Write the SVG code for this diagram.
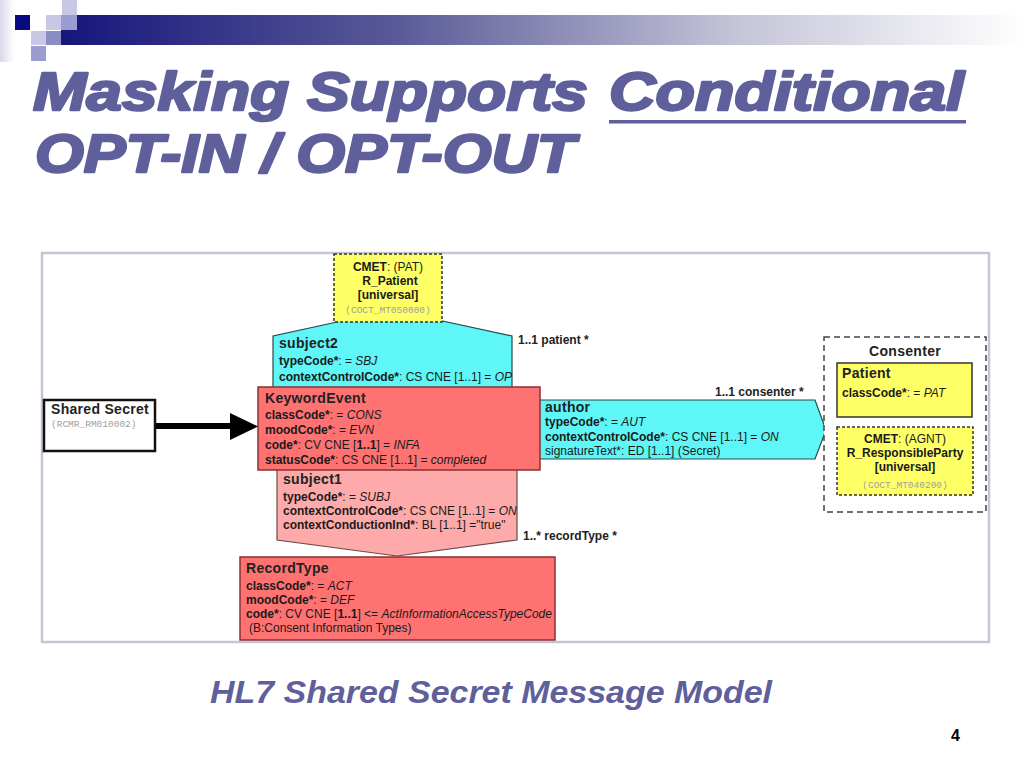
<svg xmlns="http://www.w3.org/2000/svg" width="1024" height="768" viewBox="0 0 1024 768">
<defs>
<linearGradient id="bar" x1="0" y1="0" x2="1" y2="0">
<stop offset="0" stop-color="#16167c"/>
<stop offset="0.35" stop-color="#5a5a98"/>
<stop offset="0.7" stop-color="#c4c4d8"/>
<stop offset="1" stop-color="#ffffff"/>
</linearGradient>
<linearGradient id="edge" x1="0" y1="0" x2="1" y2="0">
<stop offset="0" stop-color="#d8d8ec"/>
<stop offset="1" stop-color="#ffffff"/>
</linearGradient>
<style>
.t{font-family:"Liberation Sans",Arial,sans-serif;font-weight:bold;font-style:italic;fill:#5f5f9b;stroke:#5f5f9b;stroke-width:2.4px;stroke-linejoin:round}
.f{font-family:"Liberation Sans",Arial,sans-serif;font-weight:bold;font-style:italic;fill:#5f5f9b}
.d{font-family:"Liberation Sans",Arial,sans-serif;font-size:12px;fill:#1a1a1a}
.h{font-family:"Liberation Sans",Arial,sans-serif;font-size:14px;font-weight:bold;fill:#222;letter-spacing:0.3px}
.m{font-family:"Liberation Mono",monospace;font-size:9.5px;fill:#a0a0a0}
.b{font-weight:bold}
.i{font-style:italic}
.red{fill:#ff7272;stroke:#8a3030;stroke-width:1.5}
.pink{fill:#ffaaaa;stroke:#6a4a4a;stroke-width:1.2}
.cyan{fill:#5ef6f6;stroke:#2a4a4a;stroke-width:1.2}
.yel{fill:#ffff66;stroke:#333;stroke-width:1.5}
.dash{stroke-dasharray:3,2}
.lbl{font-family:"Liberation Sans",Arial,sans-serif;font-size:12px;font-weight:bold;fill:#222}
</style>
</defs>
<rect width="1024" height="768" fill="#ffffff"/>
<g id="header">
<rect x="0" y="0" width="14" height="62" fill="url(#edge)"/>
<rect x="61" y="15" width="963" height="30" fill="url(#bar)"/>
<rect x="62" y="0" width="15" height="15" fill="#c8c8e4"/>
<rect x="15" y="15" width="15" height="15" fill="#0a0a80"/>
<rect x="46" y="15" width="15" height="15" fill="#c8c8e4"/>
<rect x="61" y="15" width="16" height="15" fill="#9c9cd0"/>
<rect x="31" y="31" width="15" height="14" fill="#c8c8e4"/>
<rect x="46" y="31" width="15" height="14" fill="#8c8cc4"/>
<rect x="31" y="46" width="15" height="15" fill="#9c9cd0"/>
</g>
<g id="title">
<text class="t" x="33" y="110" font-size="53" textLength="555" lengthAdjust="spacingAndGlyphs">Masking Supports</text>
<text class="t" x="609" y="110" font-size="53" textLength="355" lengthAdjust="spacingAndGlyphs">Conditional</text>
<rect x="609" y="120" width="357" height="3.5" fill="#5f5f9b"/>
<text class="t" x="35" y="172" font-size="53" textLength="540" lengthAdjust="spacingAndGlyphs">OPT-IN / OPT-OUT</text>
</g>
<rect id="frame" x="42" y="253" width="947" height="389" fill="#ffffff" stroke="#c4c4d6" stroke-width="2.5"/>

<g id="author">
<polygon class="cyan" points="530,400 815,400 826,430 815,459 530,459"/>
<text class="h" x="545" y="412">author</text>
<text class="d" x="545" y="426"><tspan class="b">typeCode*</tspan>: = <tspan class="i">AUT</tspan></text>
<text class="d" x="545" y="441"><tspan class="b">contextControlCode*</tspan>: CS CNE [1..1] = <tspan class="i">ON</tspan></text>
<text class="d" x="545" y="455">signatureText*: ED [1..1] (Secret)</text>
</g>

<g id="subject2">
<polygon class="cyan" points="273,395 273,336 392,310 512,336 512,395"/>
<text class="h" x="279" y="348">subject2</text>
<text class="d" x="279" y="365"><tspan class="b">typeCode*</tspan>: = <tspan class="i">SBJ</tspan></text>
<text class="d" x="279" y="381"><tspan class="b">contextControlCode*</tspan>: CS CNE [1..1] = <tspan class="i">OP</tspan></text>
</g>

<g id="cmet-patient">
<rect class="yel dash" x="334" y="254" width="108" height="68"/>
<text class="d" x="388" y="271" text-anchor="middle"><tspan class="b">CMET</tspan>: (PAT)</text>
<text class="d b" x="390" y="285" text-anchor="middle">R_Patient</text>
<text class="d b" x="388" y="299" text-anchor="middle">[universal]</text>
<text class="m" x="388" y="313" text-anchor="middle">(COCT_MT050000)</text>
</g>

<g id="subject1">
<polygon class="pink" points="277,462 517,462 517,540 397,556 277,540"/>
<text class="h" x="283" y="484">subject1</text>
<text class="d" x="283" y="501"><tspan class="b">typeCode*</tspan>: = <tspan class="i">SUBJ</tspan></text>
<text class="d" x="283" y="515"><tspan class="b">contextControlCode*</tspan>: CS CNE [1..1] = <tspan class="i">ON</tspan></text>
<text class="d" x="283" y="529"><tspan class="b">contextConductionInd*</tspan>: BL [1..1] ="true"</text>
</g>

<g id="keyword-event">
<rect class="red" x="258" y="387" width="282" height="83"/>
<text class="h" x="265" y="403">KeywordEvent</text>
<text class="d" x="265" y="419"><tspan class="b">classCode*</tspan>: = <tspan class="i">CONS</tspan></text>
<text class="d" x="265" y="434"><tspan class="b">moodCode*</tspan>: = <tspan class="i">EVN</tspan></text>
<text class="d" x="265" y="449"><tspan class="b">code*</tspan>: CV CNE [<tspan class="b">1..1</tspan>] = <tspan class="i">INFA</tspan></text>
<text class="d" x="265" y="464"><tspan class="b">statusCode*</tspan>: CS CNE [1..1] = <tspan class="i">completed</tspan></text>
</g>

<g id="record-type">
<rect class="red" x="240" y="557" width="315" height="83"/>
<text class="h" x="246" y="573">RecordType</text>
<text class="d" x="246" y="590"><tspan class="b">classCode*</tspan>: = <tspan class="i">ACT</tspan></text>
<text class="d" x="246" y="604"><tspan class="b">moodCode*</tspan>: = <tspan class="i">DEF</tspan></text>
<text class="d" x="246" y="618"><tspan class="b">code*</tspan>: CV CNE [<tspan class="b">1..1</tspan>] &lt;= <tspan class="i">ActInformationAccessTypeCode</tspan></text>
<text class="d" x="249" y="632">(B:Consent Information Types)</text>
</g>

<g id="shared-secret">
<rect x="44" y="400" width="111" height="51" fill="#ffffff" stroke="#111" stroke-width="2.5"/>
<text class="h" x="51" y="414">Shared Secret</text>
<text class="m" x="51" y="427">(RCMR_RM010002)</text>
</g>

<g id="consenter">
<rect x="824" y="337" width="162" height="175" fill="#ffffff" stroke="#444" stroke-width="1.5" stroke-dasharray="6,4"/>
<text class="h" x="905" y="356" text-anchor="middle">Consenter</text>
<g id="patient">
<rect class="yel" x="837" y="363" width="135" height="54"/>
<text class="h" x="842" y="378">Patient</text>
<text class="d" x="842" y="397"><tspan class="b">classCode*</tspan>: = <tspan class="i">PAT</tspan></text>
</g>
<g id="cmet-responsible-party">
<rect class="yel dash" x="837" y="427" width="136" height="68"/>
<text class="d" x="905" y="443" text-anchor="middle"><tspan class="b">CMET</tspan>: (AGNT)</text>
<text class="d b" x="905" y="457" text-anchor="middle">R_ResponsibleParty</text>
<text class="d b" x="905" y="471" text-anchor="middle">[universal]</text>
<text class="m" x="905" y="488" text-anchor="middle">(COCT_MT040200)</text>
</g>
</g>

<g id="connectors">
<line x1="156" y1="426" x2="232" y2="426" stroke="#000" stroke-width="6"/>
<polygon points="230,413 258,426.5 230,440" fill="#000"/>
<text class="lbl" x="518" y="344">1..1 patient  *</text>
<text class="lbl" x="715" y="396">1..1 consenter  *</text>
<text class="lbl" x="523" y="540">1..* recordType  *</text>
</g>

<g id="footer">
<text class="f" x="210" y="703" font-size="32" textLength="562" lengthAdjust="spacingAndGlyphs">HL7 Shared Secret Message Model</text>
<text x="951" y="741" font-family="Liberation Sans, Arial, sans-serif" font-size="16" font-weight="bold" fill="#000">4</text>
</g>
</svg>
